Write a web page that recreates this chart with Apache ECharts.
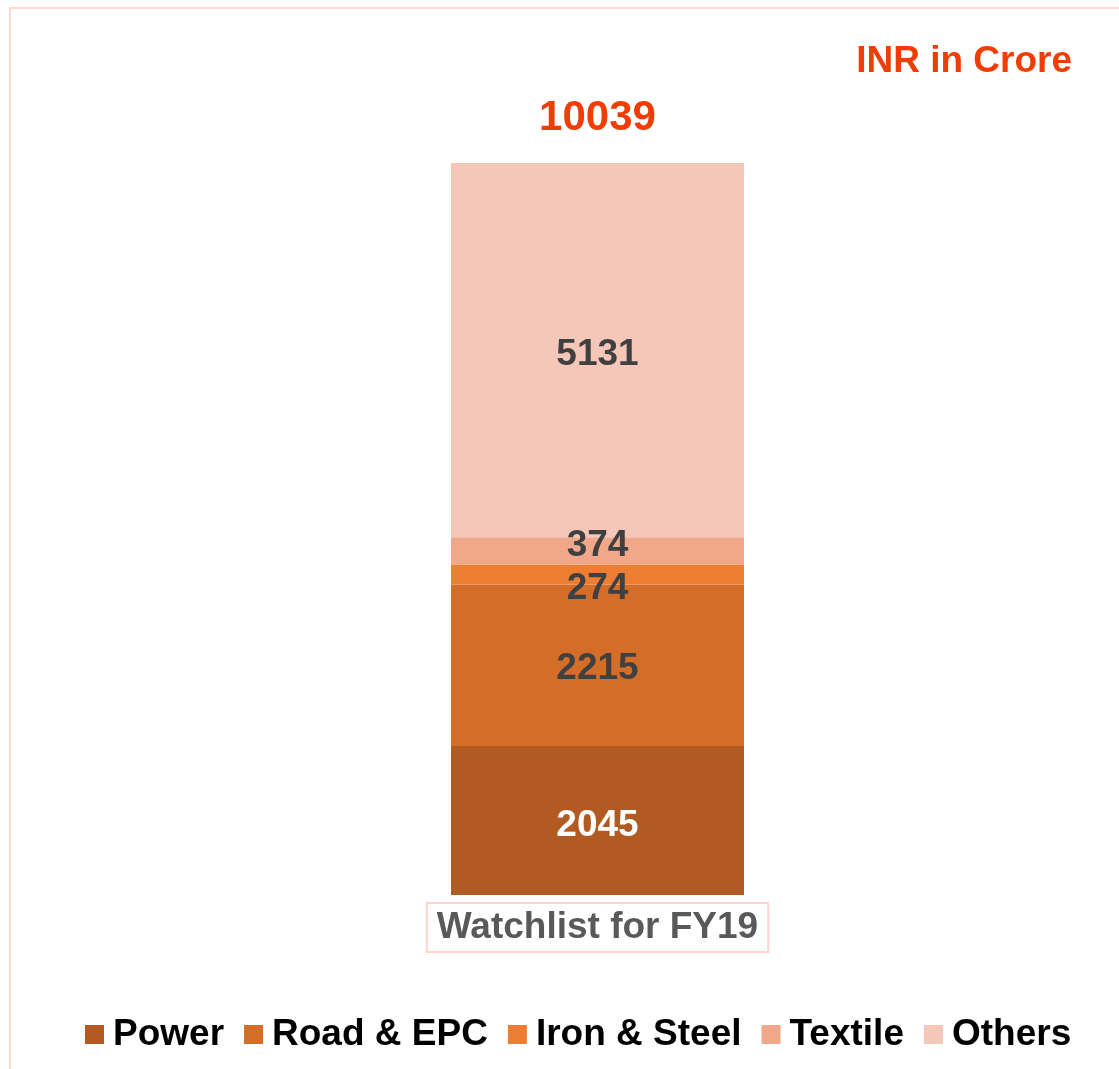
<!DOCTYPE html>
<html>
<head>
<meta charset="utf-8">
<style>
  html, body { margin: 0; padding: 0; background: #fff; }
  #chart { width: 1119px; height: 1069px; }
</style>
<script src="https://cdn.jsdelivr.net/npm/echarts@6/dist/echarts.min.js"></script>
</head>
<body>
<div id="chart"></div>
<script>
// Watchlist composition by sector (INR crore)
const categories = ['Watchlist for FY19'];
const sectors = ['Power', 'Road & EPC', 'Iron & Steel', 'Textile', 'Others'];
const power = [2045];
const roadEpc = [2215];
const ironSteel = [274];
const textile = [374];
const others = [5131];

const sectorValues = [power, roadEpc, ironSteel, textile, others];
const totals = categories.map((_, i) => sectorValues.reduce((s, arr) => s + arr[i], 0));

const FONT = '"Liberation Sans", Arial, sans-serif';
const colors = ['#B15A21', '#D46D28', '#ED7D31', '#F1A78A', '#F4C7B8'];
const labelColors = ['#FFFFFF', '#404040', '#404040', '#404040', '#404040'];
const labelOffsets = [[0, 5], [0, 4], [0, 14], [0, -5], [0, 5]];

const series = sectors.map((name, k) => ({
  name: name,
  type: 'bar',
  stack: 'total',
  barWidth: '100%',
  data: sectorValues[k],
  itemStyle: { color: colors[k] },
  label: {
    show: true,
    position: 'inside',
    offset: labelOffsets[k],
    color: labelColors[k],
    fontFamily: FONT,
    fontWeight: 'bold',
    fontSize: 37
  }
}));

// Zero-height cap carrying the stack total above the bar
series.push({
  name: 'Total',
  type: 'bar',
  stack: 'total',
  data: categories.map(() => 0),
  itemStyle: { color: 'transparent' },
  label: {
    show: true,
    position: 'top',
    distance: 24,
    formatter: p => String(totals[p.dataIndex]),
    color: '#F03C05',
    fontFamily: FONT,
    fontWeight: 'bold',
    fontSize: 42
  }
});

const chart = echarts.init(document.getElementById('chart'), null, { renderer: 'canvas' });
chart.setOption({
  backgroundColor: '#ffffff',
  animation: false,
  textStyle: { fontFamily: FONT },
  graphic: [
    {
      type: 'rect',
      shape: { x: 10, y: 8, width: 1200, height: 1200 },
      style: { fill: 'none', stroke: '#FFDAD0', lineWidth: 2 },
      silent: true
    },
    {
      type: 'text',
      right: 47,
      top: 43,
      style: {
        text: 'INR in Crore',
        fill: '#F03C05',
        font: 'bold 37px ' + FONT
      }
    }
  ],
  grid: { left: 451, right: 375, top: 163, bottom: 174 },
  xAxis: {
    type: 'category',
    data: categories,
    axisLine: { show: false },
    axisTick: { show: false },
    axisLabel: {
      margin: 8,
      color: '#595959',
      fontFamily: FONT,
      fontWeight: 'bold',
      fontSize: 37,
      borderColor: '#FFD5CB',
      borderWidth: 2,
      padding: [6, 10, 6, 10]
    }
  },
  yAxis: {
    type: 'value',
    min: 0,
    max: Math.max(...totals),
    show: false,
    splitLine: { show: false }
  },
  legend: {
    data: sectors,
    left: 85,
    top: 1016,
    padding: 0,
    icon: 'rect',
    itemWidth: 19,
    itemHeight: 19,
    itemGap: 20,
    textStyle: {
      color: '#000000',
      fontFamily: FONT,
      fontWeight: 'bold',
      fontSize: 37,
      padding: [0, 0, 0, 4]
    }
  },
  series: series
});
</script>
</body>
</html>
